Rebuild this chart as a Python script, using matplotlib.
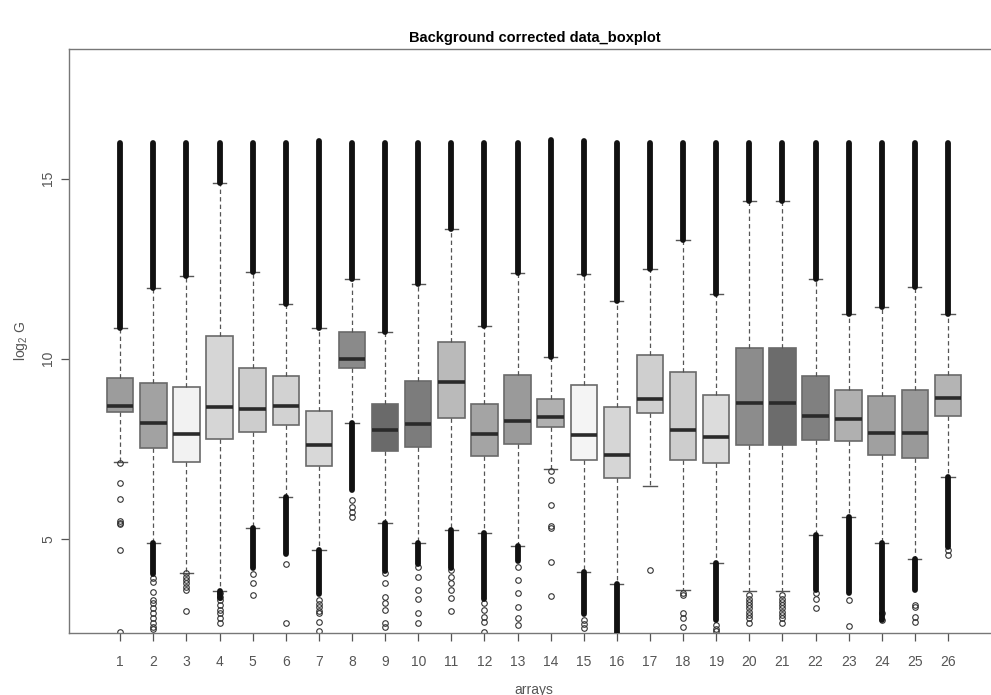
import matplotlib
matplotlib.use("Agg")
import matplotlib.pyplot as plt
import numpy as np

plt.rcParams['font.family'] = ['Liberation Sans', 'DejaVu Sans']

arrays = list(range(1, 27))

# box statistics (log2 G)
q1 = [8.52, 7.53, 7.14, 7.78, 7.96, 8.17, 7.01, 9.73, 7.43, 7.56, 8.36, 7.29, 7.64,
      8.09, 7.18, 6.69, 8.50, 7.18, 7.10, 7.59, 7.59, 7.75, 7.71, 7.33, 7.24, 8.40]
med = [8.70, 8.21, 7.92, 8.66, 8.61, 8.69, 7.59, 10.00, 8.02, 8.18, 9.35, 7.92, 8.26,
       8.37, 7.87, 7.33, 8.88, 8.01, 7.82, 8.78, 8.78, 8.41, 8.32, 7.94, 7.94, 8.92]
q3 = [9.47, 9.33, 9.20, 10.62, 9.75, 9.51, 8.55, 10.73, 8.74, 9.37, 10.47, 8.74, 9.54,
      8.88, 9.26, 8.66, 10.10, 9.63, 8.98, 10.31, 10.31, 9.53, 9.13, 8.97, 9.13, 9.55]
whislo = [7.14, 4.89, 4.06, 3.55, 5.30, 6.17, 4.70, 8.22, 5.45, 4.88, 5.24, 5.16, 4.79,
          6.94, 4.09, 3.75, 6.47, 3.57, 4.32, 3.54, 3.54, 5.09, 5.60, 4.89, 4.43, 6.71]
whishi = [10.84, 11.97, 12.29, 14.88, 12.42, 11.53, 10.86, 12.21, 10.73, 12.07, 13.59, 10.92, 12.39,
          10.05, 12.36, 11.59, 12.48, 13.30, 11.80, 14.38, 14.38, 12.22, 11.25, 11.44, 11.98, 11.25]

# upper outliers form a solid run from the whisker end up to this value
upper_max = [16.0, 16.0, 16.0, 16.0, 16.0, 16.0, 16.05, 16.0, 16.0, 16.0, 16.0, 16.0, 16.0,
             16.06, 16.05, 16.0, 16.0, 16.0, 16.0, 16.0, 16.0, 16.0, 16.0, 16.0, 16.0, 16.0]
# lower outliers: solid run down to this value (None = no solid run)
lower_dense = [None, 4.03, None, 3.35, 4.20, 4.57, 3.47, 6.34, 4.11, 4.29, 4.20, 3.32, 4.39,
               None, 2.90, 2.39, None, None, 2.74, None, None, 3.58, 3.48, 2.74, 3.58, 4.78]
# separate lower outlier circles
lower_points = [
    [7.10, 6.56, 6.09, 5.49, 5.44, 5.40, 4.70, 2.41],
    [3.90, 3.81, 3.53, 3.30, 3.21, 3.07, 2.93, 2.79, 2.65, 2.56, 2.48],
    [4.04, 3.94, 3.85, 3.78, 3.67, 3.57, 3.00],
    [3.48, 3.39, 3.30, 3.16, 3.02, 2.93, 2.79, 2.65],
    [4.02, 3.78, 3.43],
    [4.29, 2.67],
    [3.30, 3.20, 3.11, 3.00, 2.93, 2.69, 2.44],
    [6.08, 5.89, 5.75, 5.59],
    [4.04, 3.76, 3.39, 3.21, 3.02, 2.65, 2.56],
    [4.22, 3.94, 3.57, 3.34, 2.94, 2.66],
    [4.13, 3.94, 3.76, 3.57, 3.36, 3.00],
    [3.21, 3.02, 2.83, 2.69, 2.42],
    [4.22, 3.85, 3.48, 3.11, 2.79, 2.60],
    [6.89, 6.64, 5.95, 5.36, 5.30, 4.35, 3.41],
    [2.75, 2.62, 2.53],
    [],
    [4.14],
    [3.48, 3.44, 2.94, 2.79, 2.56],
    [2.60, 2.50, 2.44],
    [3.44, 3.34, 3.25, 3.16, 3.07, 2.97, 2.88, 2.79, 2.67],
    [3.44, 3.34, 3.25, 3.16, 3.07, 2.97, 2.88, 2.79, 2.67],
    [3.48, 3.34, 3.07],
    [3.30, 2.58],
    [2.93, 2.74],
    [3.16, 3.10, 2.83, 2.69],
    [4.69, 4.55],
]

fills = ['#9c9c9c', '#a2a2a2', '#f2f2f2', '#d6d6d6', '#cdcdcd', '#d2d2d2', '#d8d8d8', '#8a8a8a',
         '#6a6a6a', '#7c7c7c', '#bababa', '#a4a4a4', '#9a9a9a', '#b0b0b0', '#f4f4f4', '#d6d6d6',
         '#cfcfcf', '#cdcdcd', '#dcdcdc', '#8c8c8c', '#6c6c6c', '#808080', '#b0b0b0', '#a0a0a0',
         '#999999', '#b4b4b4']

stats = []
for i in range(len(arrays)):
    stats.append(dict(med=med[i], q1=q1[i], q3=q3[i], whislo=whislo[i], whishi=whishi[i],
                      fliers=lower_points[i]))

fig = plt.figure(figsize=(9.91, 6.95), dpi=100)
ax = fig.add_axes([0.0699, 0.0896, 1.008 - 0.0699, 0.9295 - 0.0896])

# solid runs of outliers
ax.vlines(arrays, whishi, upper_max, color='#111111', lw=4.2, capstyle='round', zorder=3)
for i, lo in enumerate(lower_dense):
    if lo is not None:
        ax.vlines(arrays[i], lo, whislo[i], color='#111111', lw=4.2, capstyle='round', zorder=3)

bp = ax.bxp(stats, positions=arrays, widths=0.8, capwidths=0.4, patch_artist=True,
            boxprops=dict(edgecolor='#6a6a6a', linewidth=1.2),
            medianprops=dict(color='#2a2a2a', linewidth=2.6),
            whiskerprops=dict(color='#555555', linewidth=0.9, linestyle=(0, (3.5, 2.5))),
            capprops=dict(color='#555555', linewidth=1.0),
            flierprops=dict(marker='o', markersize=4, markerfacecolor='none',
                            markeredgecolor='#333333', markeredgewidth=0.8))
for patch, c in zip(bp['boxes'], fills):
    patch.set_facecolor(c)

ax.set_xlim(-0.54, 27.54)
ax.set_ylim(2.39, 18.6)
ax.set_xticks(arrays)
ax.set_xticklabels([str(a) for a in arrays])
ax.set_yticks([5, 10, 15])
ax.tick_params(axis='x', colors='#555555', labelsize=10, length=6, width=0.9, pad=10,
               labelcolor='#555555')
ax.tick_params(axis='y', colors='#555555', labelsize=10, length=6, width=0.9, pad=4,
               labelrotation=90, labelcolor='#555555')
for lab in ax.get_yticklabels():
    lab.set_verticalalignment('center')
for s in ax.spines.values():
    s.set_color('#777777')
    s.set_linewidth(1.0)

ax.set_xlabel('arrays', color='#555555', fontsize=10, labelpad=10)
ax.set_ylabel(r'$\mathregular{log_2}$ G', color='#555555', fontsize=10, labelpad=8)
fig.suptitle('Background corrected data_boxplot', fontsize=10.5, fontweight='bold',
             y=0.955, x=0.54)

fig.savefig('out.png', dpi=100)
